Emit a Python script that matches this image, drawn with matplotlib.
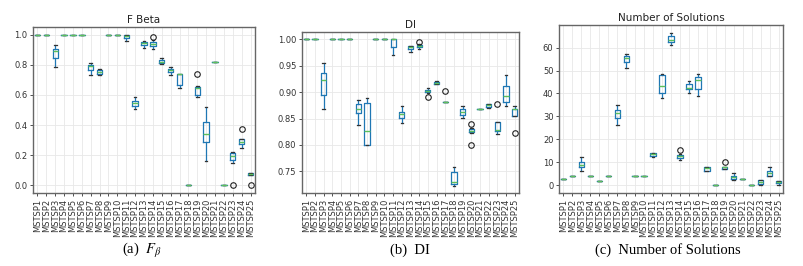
import matplotlib
matplotlib.use("Agg")
import matplotlib.pyplot as plt

plt.rcParams['mathtext.fontset'] = 'stix'

labels = [f"MSTSP{i}" for i in range(1, 26)]

# ---- F Beta ----
fb_med = [1.0, 1.0, 0.889, 1.0, 1.0, 1.0, 0.79, 0.75, 1.0, 1.0, 0.989, 0.546, 0.945, 0.94, 0.82, 0.765, 0.737, 0.0, 0.646, 0.341, 0.816, 0.0, 0.197, 0.288, 0.077]
fb_q1 = [1.0, 1.0, 0.845, 1.0, 1.0, 1.0, 0.768, 0.737, 1.0, 1.0, 0.978, 0.529, 0.929, 0.922, 0.812, 0.75, 0.664, 0.0, 0.602, 0.288, 0.816, 0.0, 0.17, 0.274, 0.069]
fb_q3 = [1.0, 1.0, 0.905, 1.0, 1.0, 1.0, 0.796, 0.768, 1.0, 1.0, 1.0, 0.562, 0.951, 0.951, 0.832, 0.772, 0.741, 0.0, 0.65, 0.42, 0.816, 0.0, 0.215, 0.307, 0.082]
fb_wlo = [1.0, 1.0, 0.783, 1.0, 1.0, 1.0, 0.735, 0.735, 1.0, 1.0, 0.96, 0.507, 0.912, 0.905, 0.805, 0.735, 0.646, 0.0, 0.586, 0.161, 0.816, 0.0, 0.148, 0.25, 0.069]
fb_whi = [1.0, 1.0, 0.934, 1.0, 1.0, 1.0, 0.812, 0.772, 1.0, 1.0, 1.0, 0.584, 0.958, 0.967, 0.845, 0.783, 0.741, 0.0, 0.657, 0.52, 0.816, 0.0, 0.221, 0.307, 0.082]
fb_fliers = {14: [0.982], 19: [0.741], 23: [0.0], 24: [0.376], 25: [0.0]}

# ---- DI ----
di_med = [1.0, 1.0, 0.923, 1.0, 1.0, 1.0, 0.868, 0.826, 1.0, 1.0, 1.0, 0.859, 0.985, 0.987, 0.903, 0.918, 0.881, 0.73, 0.862, 0.827, 0.869, 0.875, 0.828, 0.893, 0.868]
di_q1 = [1.0, 1.0, 0.894, 1.0, 1.0, 1.0, 0.86, 0.80, 1.0, 1.0, 0.986, 0.852, 0.982, 0.985, 0.901, 0.916, 0.881, 0.726, 0.856, 0.825, 0.869, 0.872, 0.827, 0.881, 0.855]
di_q3 = [1.0, 1.0, 0.937, 1.0, 1.0, 1.0, 0.877, 0.879, 1.0, 1.0, 1.0, 0.862, 0.987, 0.99, 0.905, 0.92, 0.881, 0.749, 0.868, 0.83, 0.869, 0.877, 0.843, 0.911, 0.869]
di_wlo = [1.0, 1.0, 0.869, 1.0, 1.0, 1.0, 0.837, 0.799, 1.0, 1.0, 0.971, 0.842, 0.977, 0.982, 0.899, 0.915, 0.881, 0.722, 0.852, 0.822, 0.869, 0.87, 0.82, 0.874, 0.854]
di_whi = [1.0, 1.0, 0.955, 1.0, 1.0, 1.0, 0.885, 0.889, 1.0, 1.0, 1.0, 0.874, 0.988, 0.991, 0.908, 0.921, 0.881, 0.759, 0.874, 0.832, 0.869, 0.878, 0.843, 0.933, 0.874]
di_fliers = {14: [0.996], 15: [0.891], 17: [0.903], 20: [0.84, 0.80], 23: [0.877], 25: [0.822]}

# ---- Number of Solutions ----
ns_med = [3, 4, 9, 4, 2, 4, 31.7, 55.4, 4, 4, 13.6, 43.3, 63.2, 12.9, 42.6, 45.8, 7.5, 0, 7.8, 3.8, 3, 0, 1.4, 5.2, 1.4]
ns_q1 = [3, 4, 7.8, 4, 2, 4, 29.3, 53.6, 4, 4, 13, 40.4, 62.2, 11.9, 41.9, 42, 6.4, 0, 7.1, 2.9, 3, 0, 0.7, 4.2, 0.9]
ns_q3 = [3, 4, 10, 4, 2, 4, 32.7, 56.2, 4, 4, 13.9, 48, 64.9, 13.2, 44.1, 47.1, 7.8, 0, 8, 4.2, 3, 0, 2.2, 6.1, 2.0]
ns_wlo = [3, 4, 6.2, 4, 2, 4, 26.2, 51.2, 4, 4, 12.2, 38, 61.2, 11, 40.1, 39.1, 6.4, 0, 7.1, 2.2, 3, 0, 0.1, 4.2, 0.1]
ns_whi = [3, 4, 12.3, 4, 2, 4, 35.2, 57.1, 4, 4, 13.9, 48.3, 66.2, 13.5, 45.4, 48.3, 8.1, 0, 8, 5.4, 3, 0, 2.2, 8.1, 2.0]
ns_fliers = {14: [15.4], 19: [10.1]}

titles = ["F Beta", "DI", "Number of Solutions"]
captions = [r"(a)  $F_\beta$", "(b)  DI", "(c)  Number of Solutions"]


def make_stats(med, q1, q3, wlo, whi, fliers):
    out = []
    for i in range(len(med)):
        out.append(dict(med=med[i], q1=q1[i], q3=q3[i], whislo=wlo[i], whishi=whi[i],
                        fliers=fliers.get(i + 1, [])))
    return out


fig = plt.figure(figsize=(8.04, 2.66), dpi=100)
rects = [
    [33 / 804, 1 - 193 / 266, 222 / 804, 166 / 266],
    [302 / 804, 1 - 193 / 266, 217 / 804, 161 / 266],
    [559 / 804, 1 - 193 / 266, 224 / 804, 168 / 266],
]
datasets = [
    (fb_med, fb_q1, fb_q3, fb_wlo, fb_whi, fb_fliers),
    (di_med, di_q1, di_q3, di_wlo, di_whi, di_fliers),
    (ns_med, ns_q1, ns_q3, ns_wlo, ns_whi, ns_fliers),
]
ylims = [(-0.05, 1.05), (0.709, 1.014), (-3.3, 69.8)]
yticks = [[0, 0.2, 0.4, 0.6, 0.8, 1.0], [0.75, 0.80, 0.85, 0.90, 0.95, 1.00], [0, 10, 20, 30, 40, 50, 60]]
yfmt = ["{:.1f}", "{:.2f}", "{:.0f}"]
cap_x = [142, 410, 668]

blue = '#1f77b4'
green = '#5cc05c'

for k in range(3):
    ax = fig.add_axes(rects[k])
    stats = make_stats(*datasets[k])
    ax.bxp(stats, positions=list(range(1, 26)), widths=0.6,
           boxprops=dict(color=blue, linewidth=0.9),
           whiskerprops=dict(color=blue, linewidth=0.9),
           capprops=dict(color='#333333', linewidth=0.9),
           medianprops=dict(color=green, linewidth=1.0, zorder=5),
           flierprops=dict(marker='o', markerfacecolor='none', markeredgecolor='#222222',
                           markersize=4, markeredgewidth=0.8))
    ax.set_xlim(0.5, 25.5)
    ax.set_ylim(*ylims[k])
    ax.set_yticks(yticks[k])
    ax.set_yticklabels([yfmt[k].format(v) for v in yticks[k]], fontsize=6, color='#333333')
    ax.set_xticks(list(range(1, 26)))
    ax.set_xticklabels(labels, rotation=90, fontsize=6, color='#333333')
    ax.tick_params(axis='both', length=2, width=0.6, pad=2, colors='#333333')
    ax.grid(True, color='#e8e8e8', linewidth=0.6)
    ax.set_axisbelow(True)
    for s in ax.spines.values():
        s.set_color('#666666')
        s.set_linewidth(1.0)
    ax.set_title(titles[k], fontsize=7.5, pad=3, color='#222222')
    fig.text(cap_x[k] / 804, 1 - 250 / 266, captions[k], ha='center', va='center',
             fontsize=10.5, family='Liberation Serif')

fig.savefig("out.png", dpi=100)
